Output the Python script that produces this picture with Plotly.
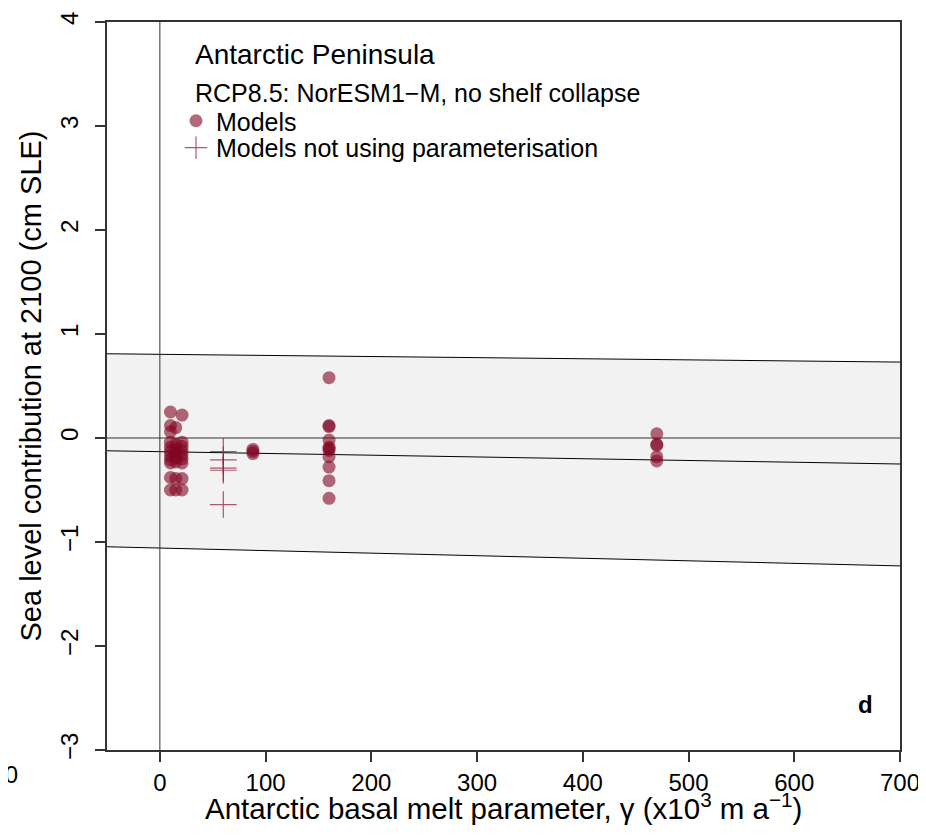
import plotly.graph_objects as go

# basal melt parameter (x10^3 m/a) and sea level contribution at 2100 (cm SLE)
gamma_10 = [0.25, 0.12, 0.06, -0.04, -0.09, -0.13, -0.17, -0.21, -0.24, -0.38, -0.50]
gamma_15 = [0.10, -0.06, -0.11, -0.15, -0.19, -0.23, -0.39, -0.50]
gamma_21 = [0.22, -0.04, -0.08, -0.12, -0.16, -0.20, -0.24, -0.39, -0.50]
gamma_88 = [-0.11, -0.13, -0.15]
gamma_160 = [0.58, 0.12, 0.11, -0.02, -0.09, -0.10, -0.12, -0.18, -0.28, -0.41, -0.58]
gamma_470 = [0.04, -0.06, -0.07, -0.18, -0.22]

# models not using the parameterisation (plotted at gamma = 60)
noparam_gamma = 60
noparam_sle = [-0.13, -0.21, -0.29, -0.31, -0.64]

# regression line and band
band_x = [-50, 700]
band_upper = [0.81, 0.73]
band_mid = [-0.123, -0.25]
band_lower = [-1.046, -1.23]

x_ticks = [0, 100, 200, 300, 400, 500, 600, 700]
y_ticks = [-3, -2, -1, 0, 1, 2, 3, 4]

groups = {10: gamma_10, 15: gamma_15, 21: gamma_21, 88: gamma_88, 160: gamma_160, 470: gamma_470}
models_x = []
models_y = []
for g, vals in groups.items():
    models_x += [g] * len(vals)
    models_y += vals

font = 'Liberation Sans, Arial, sans-serif'
point_col = 'rgba(130, 5, 35, 0.6)'
cross_col = 'rgba(150, 30, 60, 0.75)'

fig = go.Figure()

# shaded band
fig.add_trace(go.Scatter(x=band_x, y=band_lower, mode='lines',
                         line=dict(color='black', width=1), showlegend=False, hoverinfo='skip'))
fig.add_trace(go.Scatter(x=band_x, y=band_upper, mode='lines', fill='tonexty',
                         fillcolor='#f2f2f2',
                         line=dict(color='black', width=1), showlegend=False, hoverinfo='skip'))
fig.add_trace(go.Scatter(x=band_x, y=band_mid, mode='lines',
                         line=dict(color='black', width=1), showlegend=False, hoverinfo='skip'))

# zero lines
fig.add_trace(go.Scatter(x=[band_x[0], band_x[1]], y=[0, 0], mode='lines',
                         line=dict(color='#333', width=1), showlegend=False, hoverinfo='skip'))
fig.add_trace(go.Scatter(x=[0, 0], y=[y_ticks[0], y_ticks[-1]], mode='lines',
                         line=dict(color='#333', width=1), showlegend=False, hoverinfo='skip'))

fig.add_trace(go.Scatter(x=models_x, y=models_y, mode='markers', name='Models',
                         marker=dict(color=point_col, size=13, line=dict(width=0)),
                         legend='legend'))
fig.add_trace(go.Scatter(x=[noparam_gamma] * len(noparam_sle), y=noparam_sle, mode='markers',
                         name='Models not using parameterisation',
                         marker=dict(symbol='cross-thin', size=19,
                                     line=dict(color=cross_col, width=1.2)),
                         legend='legend2'))

axis_common = dict(showline=True, mirror=True, linecolor='#333', linewidth=1.5,
                   ticks='outside', ticklen=10, tickwidth=1.5, tickcolor='#333',
                   showgrid=False, zeroline=False, automargin=False,
                   tickfont=dict(family=font, size=24, color='black'))

# the page body adds an 8px offset, so the figure is 8px smaller and margins shifted
fig.update_layout(
    width=918, height=827,
    margin=dict(l=99, r=26, t=14, b=85),
    plot_bgcolor='white', paper_bgcolor='white',
    font=dict(family=font, color='black'),
    xaxis=dict(range=[-50, 700], tickvals=x_ticks, **axis_common),
    yaxis=dict(range=[-3, 4], tickvals=y_ticks, tickangle=-90, ticklabelstandoff=8,
               title=dict(text='Sea level contribution at 2100 (cm SLE)',
                          font=dict(size=29), standoff=6),
               **axis_common),
    legend=dict(x=0.087, y=0.864, xanchor='left', yanchor='middle',
                bgcolor='rgba(0,0,0,0)', font=dict(size=25, family=font)),
    legend2=dict(x=0.087, y=0.827, xanchor='left', yanchor='middle',
                 bgcolor='rgba(0,0,0,0)', font=dict(size=25, family=font)),
    annotations=[
        dict(text='Antarctic basal melt parameter, γ (x10<sup>3</sup> m a<sup>−1</sup>)',
             xref='paper', yref='paper', x=0.5, y=-0.078, xanchor='center', yanchor='middle',
             showarrow=False, font=dict(size=29.5)),
        dict(text='Antarctic Peninsula', xref='paper', yref='paper', x=0.1085, y=0.9547,
             xanchor='left', yanchor='middle', showarrow=False, font=dict(size=28)),
        dict(text='RCP8.5: NorESM1−M, no shelf collapse', xref='paper', yref='paper',
             x=0.1085, y=0.903, xanchor='left', yanchor='middle', showarrow=False,
             font=dict(size=25)),
        dict(text='<b>d</b>', xref='paper', yref='paper', x=0.957, y=0.062,
             xanchor='center', yanchor='middle', showarrow=False, font=dict(size=24)),
        dict(text='700', xref='paper', yref='paper', x=-0.1095, y=-0.034,
             xanchor='right', yanchor='middle', showarrow=False, font=dict(size=24)),
    ],
)

fig.write_html('out.html')
